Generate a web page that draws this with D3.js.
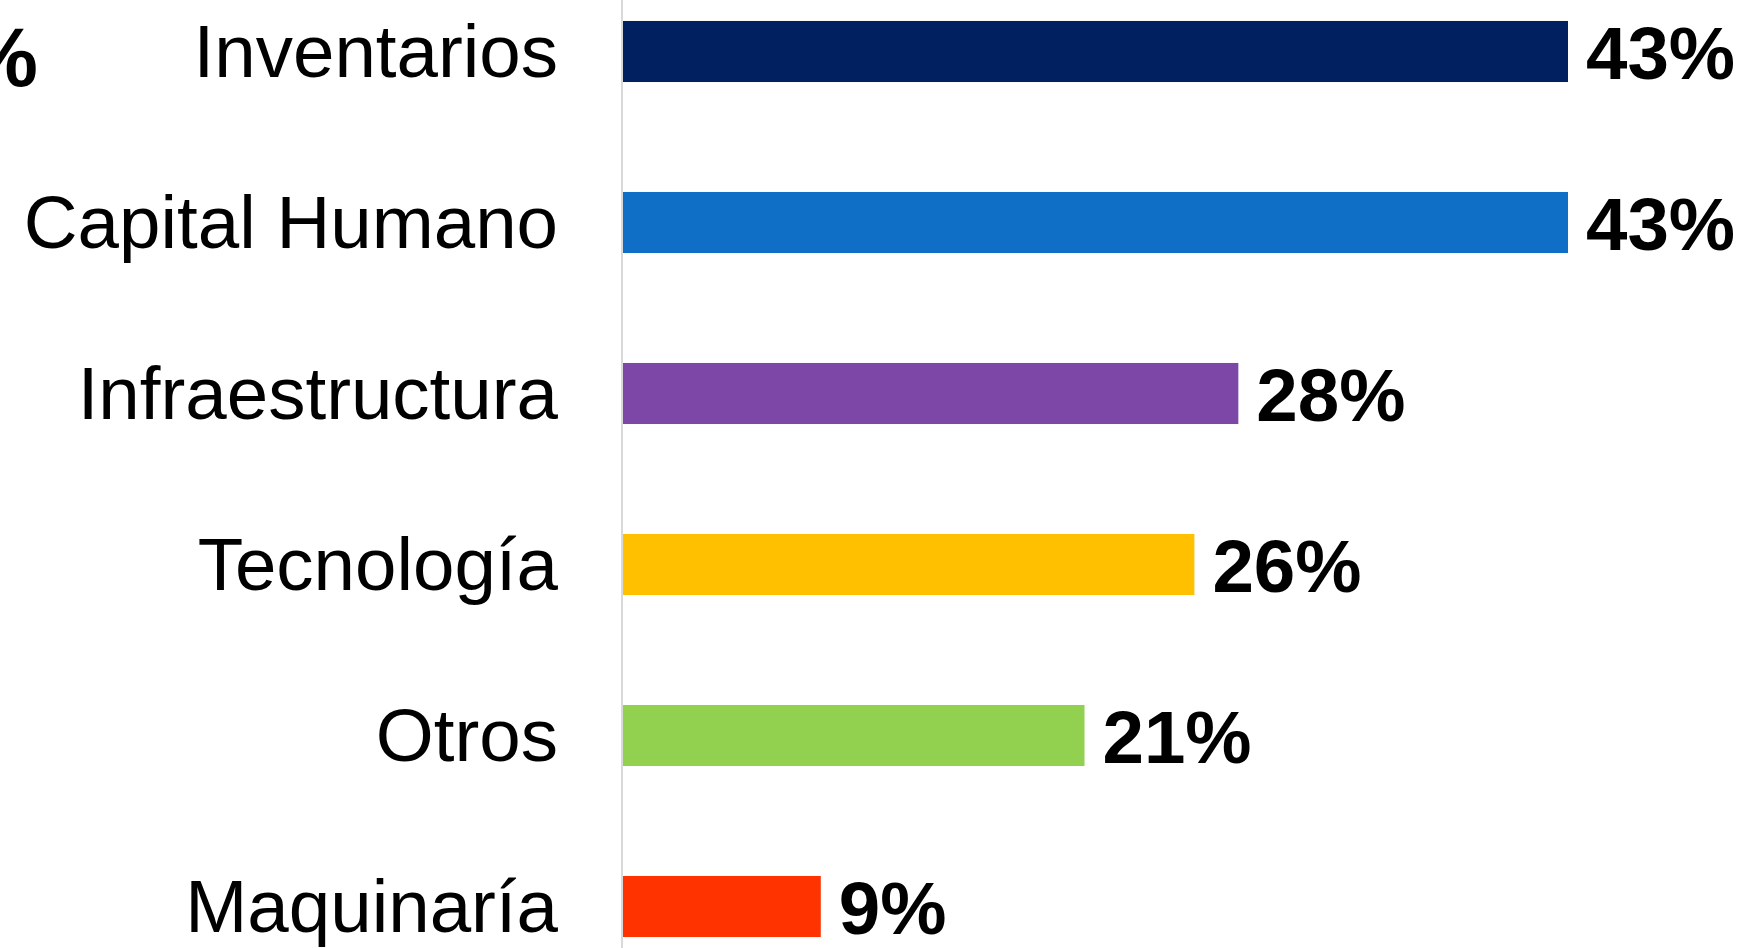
<!DOCTYPE html>
<html>
<head>
<meta charset="utf-8">
<script src="https://cdn.jsdelivr.net/npm/d3@7"></script>
<style>
  html, body { margin: 0; padding: 0; background: #fff; overflow: hidden; }
  svg text { font-family: "Liberation Sans", Arial, sans-serif; }
</style>
</head>
<body>
<svg id="chart" width="1746" height="948"></svg>
<script>
// data
var categories = ["Inventarios", "Capital Humano", "Infraestructura", "Tecnología", "Otros", "Maquinaría"];
var values = [0.43, 0.43, 0.28, 0.26, 0.21, 0.09];
var colors = ["#002060", "#0F6FC6", "#7D47A7", "#FFC000", "#92D050", "#FF3300"];

var width = 1746, height = 948;
var svg = d3.select("#chart");

var x = d3.scaleLinear()
    .domain([0, 0.43])
    .range([623, 1568]);

var y = d3.scaleBand()
    .domain(categories)
    .range([-34, 992])
    .paddingInner(0.643)
    .paddingOuter(0.3215);

var rows = categories.map(function(c, i){
    return {name: c, value: values[i], color: colors[i]};
});

// leftover label from the neighbouring chart, cut by the frame
svg.append("text")
    .attr("x", 38)
    .attr("y", 86)
    .attr("text-anchor", "end")
    .style("font-size", "84px")
    .style("font-weight", "bold")
    .text("%");

// bars
svg.append("g")
    .selectAll("rect")
    .data(rows)
    .enter().append("rect")
    .attr("x", x(0))
    .attr("y", function(d){ return y(d.name); })
    .attr("width", function(d){ return x(d.value) - x(0); })
    .attr("height", y.bandwidth())
    .attr("fill", function(d){ return d.color; });

// vertical axis line
svg.append("line")
    .attr("x1", x(0) - 1)
    .attr("x2", x(0) - 1)
    .attr("y1", 0)
    .attr("y2", height)
    .attr("stroke", "#D9D9D9")
    .attr("stroke-width", 2);

// category labels
svg.append("g")
    .selectAll("text")
    .data(rows)
    .enter().append("text")
    .attr("x", 558)
    .attr("y", function(d){ return y(d.name) + y.bandwidth() / 2 + 25; })
    .attr("text-anchor", "end")
    .style("font-size", "74.5px")
    .attr("fill", "#000")
    .text(function(d){ return d.name; });

// value labels
var fmt = d3.format(".0%");
svg.append("g")
    .selectAll("text")
    .data(rows)
    .enter().append("text")
    .attr("x", function(d){ return x(d.value) + 18; })
    .attr("y", function(d){ return y(d.name) + y.bandwidth() / 2 + 27; })
    .style("font-size", "74.5px")
    .style("font-weight", "bold")
    .attr("fill", "#000")
    .text(function(d){ return fmt(d.value); });
</script>
</body>
</html>
